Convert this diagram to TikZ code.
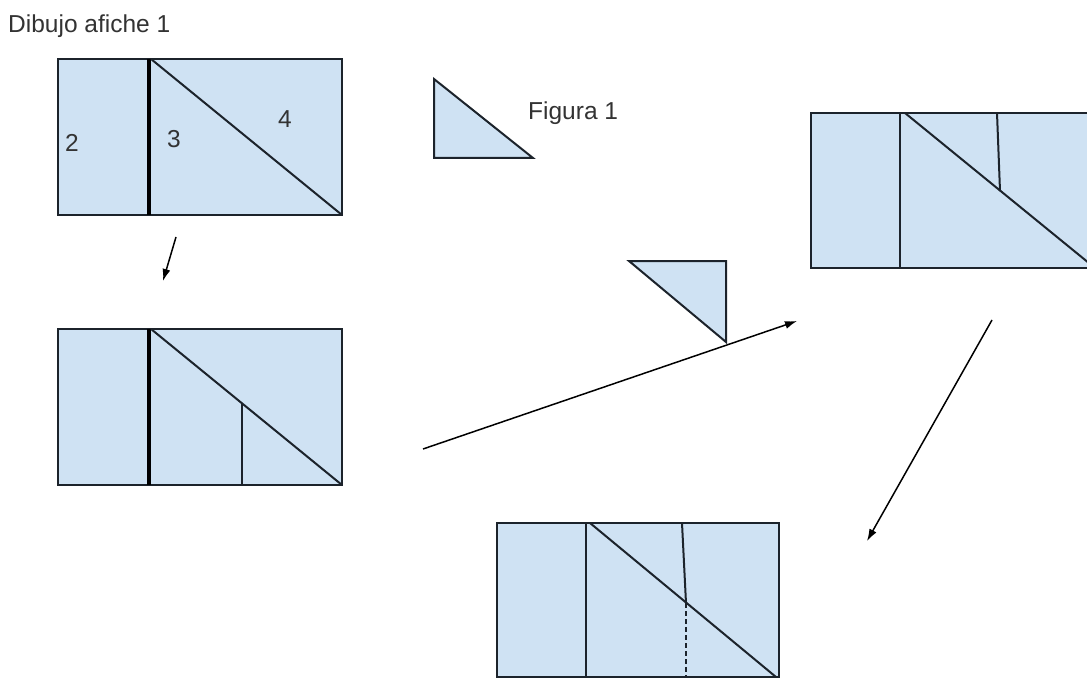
\documentclass[tikz,border=0pt]{standalone}
\usepackage{fontspec}
\setmainfont{Liberation Sans}
\usepackage{xcolor}
\definecolor{PaleBlue}{HTML}{cfe2f3}
\definecolor{InkGrey}{HTML}{1c232b}
\definecolor{TextGrey}{HTML}{333333}
\usetikzlibrary{arrows.meta}

\tikzset{
  piece/.style={fill=PaleBlue, draw=InkGrey, line width=2pt, line join=miter},
  cut/.style={draw=InkGrey, line width=2pt},
  fold/.style={draw=black, line width=3.5pt},
  move/.style={draw=black, line width=1.5pt, -{Latex[length=12pt,width=8pt]}},
  lbl/.style={font=\fontsize{24.5}{28}\selectfont, text=TextGrey, inner sep=0pt}
}

\begin{document}
\begin{tikzpicture}[x=1pt,y=-1pt]
  \useasboundingbox (0,0) rectangle (1087,679);
  \clip (0,0) rectangle (1087,679);

  \node[lbl, anchor=west] (title) at (8,26) {Dibujo afiche 1};

  % poster 1
  \draw[piece] (58,59) rectangle (342,215);
  \draw[fold] (149,59) -- (149,215);
  \draw[cut] (151,59) -- (342,215);
  \node[lbl] (two) at (72,143) {2};
  \node[lbl] (three) at (174,139) {3};
  \node[lbl] (four) at (285,119) {4};

  % figura 1
  \draw[piece] (434,79) -- (434,158) -- (533,158) -- cycle;
  \node[lbl, anchor=west] (fig) at (528,113) {Figura 1};

  % poster 2
  \draw[piece] (58,329) rectangle (342,485);
  \draw[fold] (149,329) -- (149,485);
  \draw[cut] (151,329) -- (342,485);
  \draw[cut] (242,403) -- (242,485);

  % moved piece
  \draw[piece] (629,261) -- (726,261) -- (726,342) -- cycle;

  % poster 3
  \draw[piece] (811,113) rectangle (1095,268);
  \draw[cut] (900,113) -- (900,268);
  \draw[cut] (905,113) -- (1095,268);
  \draw[cut] (997,113) -- (1000,191);

  % poster 4
  \draw[piece] (497,523) rectangle (779,677);
  \draw[cut] (586,523) -- (586,677);
  \draw[cut] (590,523) -- (776,677);
  \draw[cut] (682,523) -- (686,603);
  \draw[cut, dash pattern=on 5pt off 3pt] (686,603) -- (686,677);

  % arrows
  \coordinate (a1s) at (176,237);
  \coordinate (a1e) at (163,281);
  \coordinate (a2s) at (423,449);
  \coordinate (a2e) at (797,321);
  \coordinate (a3s) at (992,320);
  \coordinate (a3e) at (867,541);
  \draw[move] (a1s) -- (a1e);
  \draw[move] (a2s) -- (a2e);
  \draw[move] (a3s) -- (a3e);
\end{tikzpicture}
\end{document}
